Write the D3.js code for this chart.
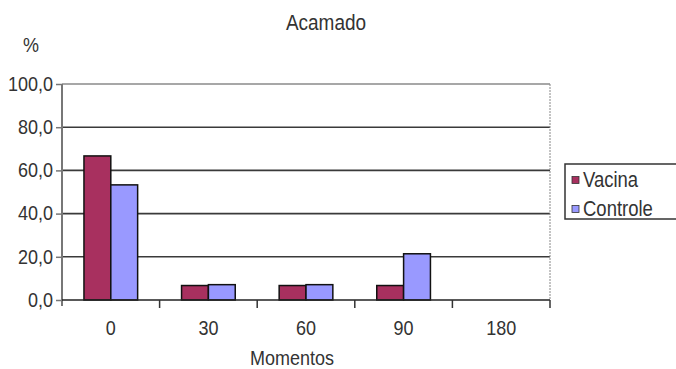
<!DOCTYPE html>
<html>
<head>
<meta charset="utf-8">
<script src="https://cdn.jsdelivr.net/npm/d3@7"></script>
<style>
  html, body { margin: 0; padding: 0; background: #fff; }
  svg { display: block; font-family: "Liberation Sans", Arial, sans-serif; }
</style>
</head>
<body>
<svg id="chart" width="676" height="369"></svg>
<script>
// Percent of animals bedridden ("Acamado") per moment, by group
const categories = ["0", "30", "60", "90", "180"];
const seriesNames = ["Vacina", "Controle"];
const vacina = [66.7, 6.7, 6.7, 6.7, 0];
const controle = [53.3, 7.1, 7.1, 21.4, 0];
const yTicks = [0, 20, 40, 60, 80, 100];
const colors = ["#a8305f", "#9999ff"];

const svg = d3.select("#chart");
const plotLeft = 62, plotRight = 550, plotTop = 84, plotBottom = 300;
const textColor = "#333";
const stretch = "scale(1,1.15)";

const x0 = d3.scaleBand().domain(categories).range([plotLeft, plotRight]).paddingInner(0).paddingOuter(0);
const bw = x0.bandwidth();
const x1 = d3.scaleBand().domain(seriesNames).range([bw * 0.225, bw * 0.775]).padding(0);
const y = d3.scaleLinear().domain([0, 100]).range([plotBottom, plotTop]);

const fmt = v => d3.format(".1f")(v).replace(".", ",");

// horizontal gridlines
svg.append("g").selectAll("line")
  .data(yTicks.filter(t => t > 0))
  .join("line")
  .attr("x1", plotLeft).attr("x2", plotRight)
  .attr("y1", d => y(d)).attr("y2", d => y(d))
  .attr("stroke", d => d === 100 ? "#8a8a8a" : "#3a3a3a")
  .attr("stroke-width", d => d === 100 ? 1.5 : 1.6);

// right border of the plot area
svg.append("line")
  .attr("x1", plotRight).attr("x2", plotRight)
  .attr("y1", plotTop).attr("y2", plotBottom)
  .attr("stroke", "#888").attr("stroke-width", 1)
  .attr("stroke-dasharray", "2,1");

// bars
const rows = categories.map((c, i) => ({ c, vals: [vacina[i], controle[i]] }));
const groups = svg.append("g").selectAll("g")
  .data(rows)
  .join("g")
  .attr("transform", d => `translate(${x0(d.c)},0)`);
groups.selectAll("rect")
  .data(d => d.vals.map((v, k) => ({ name: seriesNames[k], v, k })))
  .join("rect")
  .attr("x", d => x1(d.name))
  .attr("width", x1.bandwidth())
  .attr("y", d => y(d.v))
  .attr("height", d => y(0) - y(d.v))
  .attr("fill", d => colors[d.k])
  .attr("stroke", "#111")
  .attr("stroke-width", d => d.v > 0 ? 1.5 : 0);

// y axis
const yAxis = svg.append("g")
  .attr("transform", `translate(${plotLeft},0)`)
  .call(d3.axisLeft(y).tickValues(yTicks).tickFormat(fmt).tickSize(6).tickPadding(3));
yAxis.select(".domain").attr("stroke", "#777").attr("stroke-width", 2)
  .attr("d", `M0,${plotTop}V${plotBottom + 6}`);
yAxis.selectAll(".tick line").attr("stroke", "#777").attr("stroke-width", 1.5);
yAxis.selectAll(".tick text")
  .attr("fill", textColor).attr("font-size", 18)
  .attr("font-family", "Liberation Sans, Arial, sans-serif")
  .attr("transform", stretch).attr("dy", "0.3em");

// x axis with ticks on category boundaries
const xAxis = svg.append("g")
  .attr("transform", `translate(0,${plotBottom})`)
  .call(d3.axisBottom(x0).tickSize(0).tickPadding(0));
xAxis.select(".domain").attr("stroke", "#222").attr("stroke-width", 1.6)
  .attr("d", `M${plotLeft},0H${plotRight}`);
xAxis.selectAll(".tick text")
  .attr("fill", textColor).attr("font-size", 18)
  .attr("font-family", "Liberation Sans, Arial, sans-serif")
  .attr("y", 0).attr("dy", 0)
  .attr("transform", `translate(0,35) ${stretch}`);
xAxis.append("g").selectAll("line")
  .data(categories.slice(1).map(c => x0(c)).concat([plotRight]))
  .join("line")
  .attr("x1", d => d).attr("x2", d => d)
  .attr("y1", 0).attr("y2", 8)
  .attr("stroke", "#333").attr("stroke-width", 1.5);

// titles
function label(text, x, yy, size, anchor) {
  svg.append("text")
    .attr("transform", `translate(${x},${yy}) ${stretch}`)
    .attr("text-anchor", anchor || "middle")
    .attr("font-size", size)
    .attr("fill", textColor)
    .text(text);
}
label("Acamado", 326, 30, 19);
label("%", 31, 52, 18);
label("Momentos", 292, 365, 18);

// legend
const legend = svg.append("g");
legend.append("rect")
  .attr("x", 565).attr("y", 164).attr("width", 130).attr("height", 55)
  .attr("fill", "#fff").attr("stroke", "#333").attr("stroke-width", 1.5);
seriesNames.forEach((name, k) => {
  const cy = 180 + k * 29;
  legend.append("rect")
    .attr("x", 572).attr("y", cy - 3.5).attr("width", 7).attr("height", 7)
    .attr("fill", colors[k]).attr("stroke", "#333").attr("stroke-width", 0.8);
  legend.append("text")
    .attr("transform", `translate(583,${cy + 7}) ${stretch}`)
    .attr("font-size", 18.5)
    .attr("fill", textColor)
    .text(name);
});
</script>
</body>
</html>
